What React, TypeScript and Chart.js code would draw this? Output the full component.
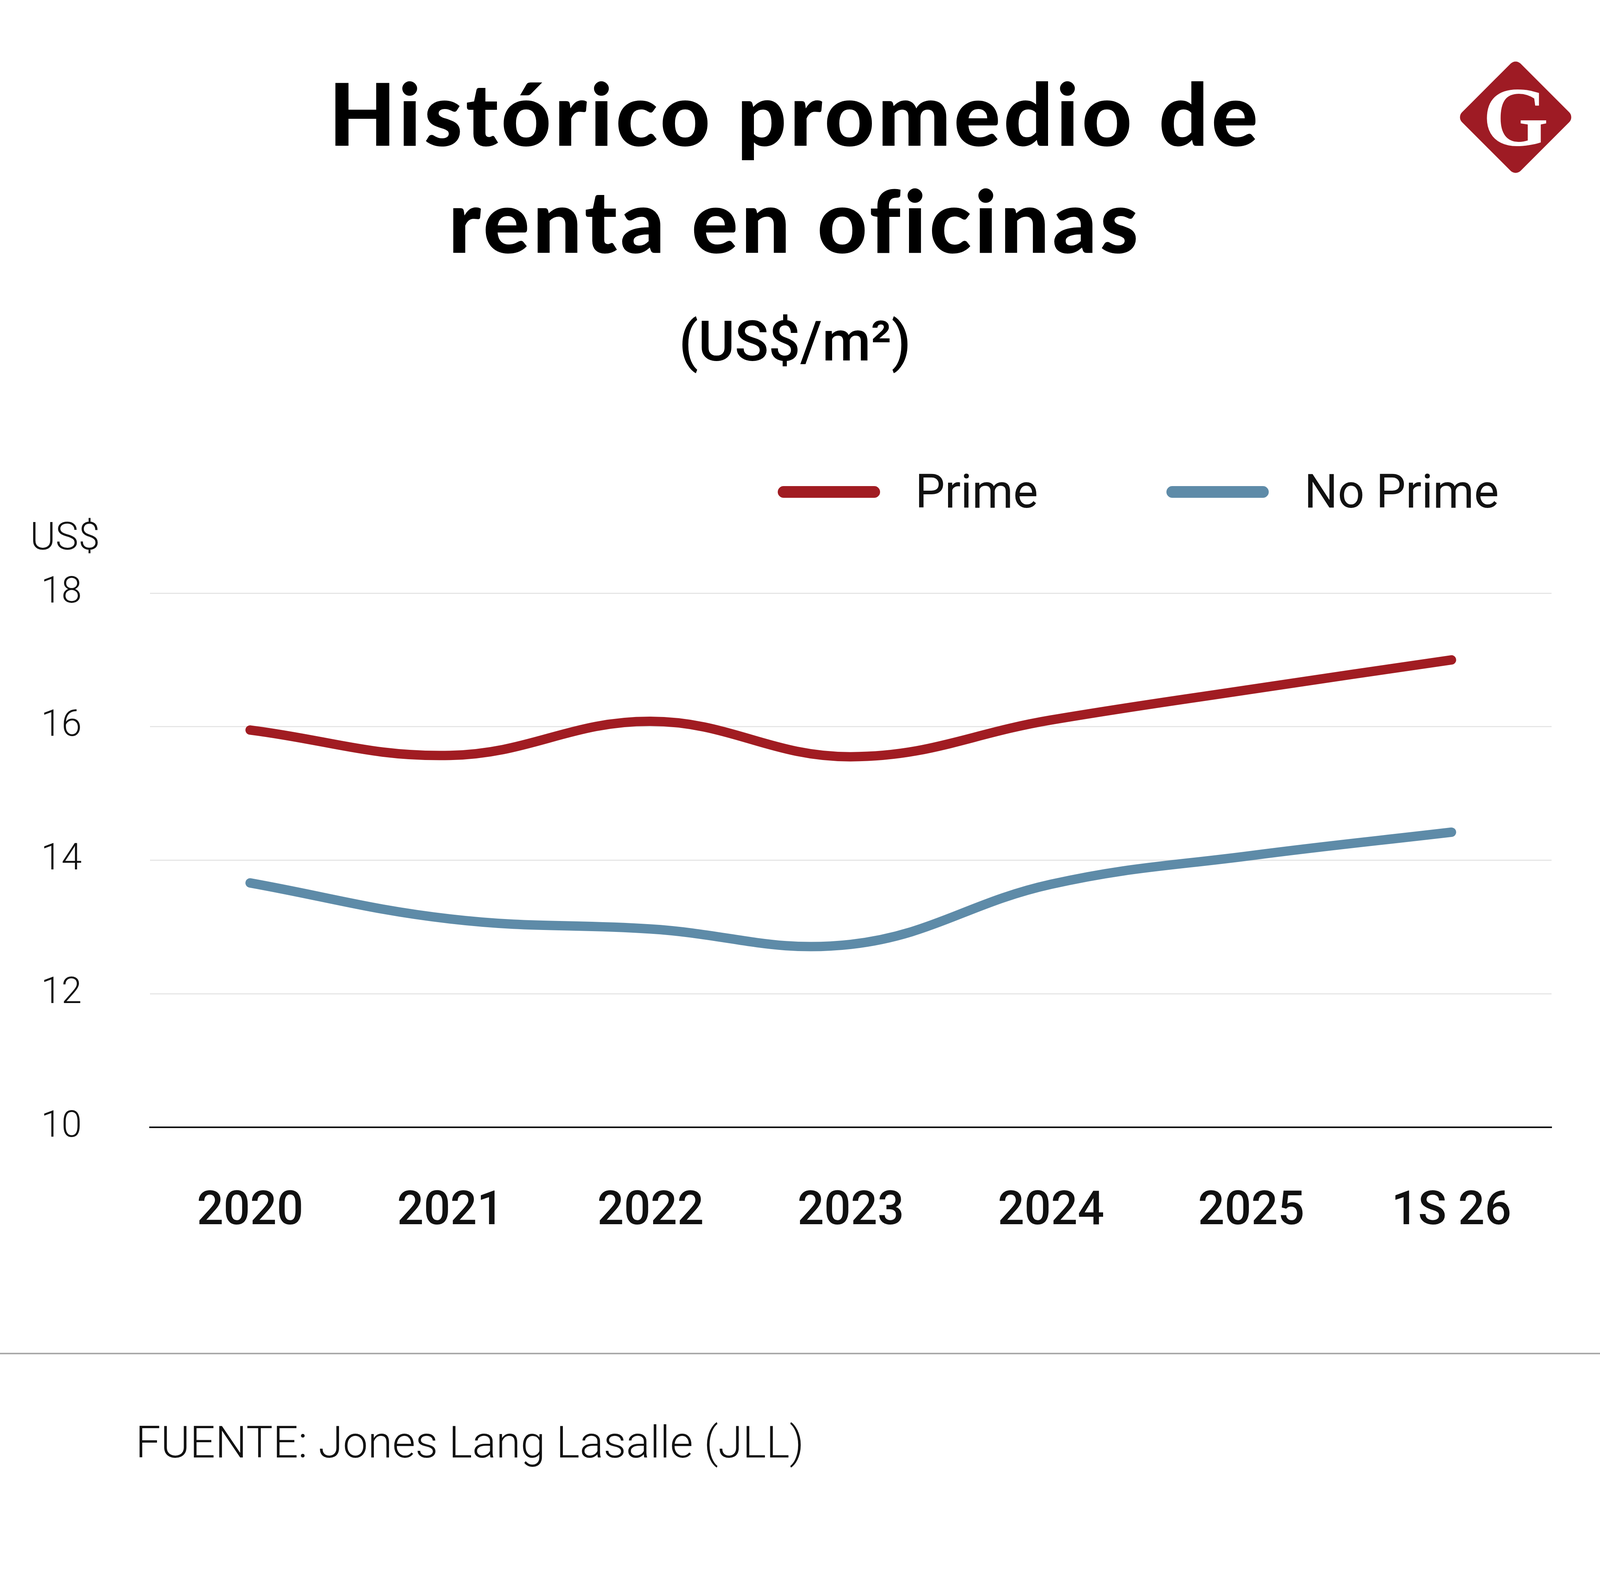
import React, { useEffect, useRef } from "react";
import { Chart, registerables } from "chart.js";
Chart.register(...registerables);

const categories = ["2020", "2021", "2022", "2023", "2024", "2025", "1S 26"];
const primeValues = [15.95, 15.57, 16.08, 15.55, 16.1, 16.56, 17.0];
const noPrimeValues = [13.66, 13.12, 12.97, 12.74, 13.64, 14.07, 14.42];
const yTicks = [10, 12, 14, 16, 18];
const PRIME = "#a11c22";
const NOPRIME = "#5e8ba8";
const FONT = "Roboto, 'Noto Sans', sans-serif";

export default function App() {
  const ref = useRef<HTMLCanvasElement>(null);
  useEffect(() => {
    document.body.style.margin = "0";
    const chart = new Chart(ref.current!, {
      type: "line",
      data: {
        labels: categories,
        datasets: [
          { label: "Prime", data: primeValues, borderColor: PRIME, borderWidth: 24, tension: 0.4, pointRadius: 0, borderCapStyle: "round", fill: false },
          { label: "No Prime", data: noPrimeValues, borderColor: NOPRIME, borderWidth: 24, tension: 0.4, pointRadius: 0, borderCapStyle: "round", fill: false },
        ],
      },
      options: {
        animation: false,
        responsive: false,
        devicePixelRatio: 1,
        layout: { padding: { top: 136, right: 178, bottom: 0, left: 0 } },
        plugins: { legend: { display: false }, tooltip: { enabled: false } },
        scales: {
          x: {
            offset: true,
            grid: { display: false, drawTicks: false },
            border: { display: true, color: "#111", width: 4 },
            ticks: { color: "#111", font: { family: FONT, size: 120, weight: "500" }, padding: 146 },
            afterFit: (s: any) => { s.height = 397; },
          },
          y: {
            min: 10, max: 18,
            afterBuildTicks: (s: any) => { s.ticks = yTicks.map((v) => ({ value: v })); },
            grid: { color: "#e6e6e6", lineWidth: 3, drawTicks: false },
            border: { display: false },
            ticks: { color: "#111", font: { family: FONT, size: 94, weight: "300" }, crossAlign: "far", padding: 10 },
            afterFit: (s: any) => { s.width = 279; },
          },
        },
      },
    });
    return () => chart.destroy();
  }, []);

  const abs = (o: any): React.CSSProperties => ({ position: "absolute", ...o });
  return (
    <div style={{ position: "relative", width: 4150, height: 4018, background: "#fff", fontFamily: FONT, color: "#000", overflow: "hidden" }}>
      <div style={abs({ left: 0, width: 4150, top: 150, textAlign: "center", fontFamily: "Lato, Roboto, sans-serif", fontSize: 222, fontWeight: 900, lineHeight: "274px", letterSpacing: 8, paddingRight: 80, boxSizing: "border-box" })}>
        Histórico promedio de<br />renta en oficinas
      </div>
      <div style={abs({ left: 0, width: 4150, top: 785, textAlign: "center", fontSize: 143, fontWeight: 500, lineHeight: "178px", paddingRight: 80, boxSizing: "border-box" })}>
        (US$/m²)
      </div>
      <div style={abs({ left: 3880 - 106, top: 300 - 106, width: 212, height: 212, background: "#9e1b24", borderRadius: 18, transform: "rotate(45deg)" })} />
      <div style={abs({ left: 3880 - 150, top: 300 - 150, width: 300, height: 300, lineHeight: "300px", textAlign: "center", color: "#fff", fontFamily: "'Liberation Serif', 'DejaVu Serif', serif", fontWeight: 700, fontSize: 216 })}>G</div>
      <div style={abs({ left: 1991, top: 1244, width: 262, height: 30, borderRadius: 15, background: PRIME })} />
      <div style={abs({ left: 2343, top: 1184, fontSize: 120, lineHeight: "148px", color: "#111" })}>Prime</div>
      <div style={abs({ left: 2986, top: 1244, width: 262, height: 30, borderRadius: 15, background: NOPRIME })} />
      <div style={abs({ left: 3339, top: 1184, fontSize: 120, lineHeight: "148px", color: "#111" })}>No Prime</div>
      <div style={abs({ left: 77, top: 1313, fontSize: 99, fontWeight: 300, lineHeight: "118px", color: "#111" })}>US$</div>
      <canvas ref={ref} width={4045} height={1900} style={abs({ left: 105, top: 1382, width: 4045, height: 1900 })} />
      <div style={abs({ left: 0, top: 3462, width: 4150, height: 4, background: "#aaa" })} />
      <div style={abs({ left: 347, top: 3622, fontSize: 114, fontWeight: 300, lineHeight: "138px", color: "#111" })}>FUENTE: Jones Lang Lasalle (JLL)</div>
    </div>
  );
}
